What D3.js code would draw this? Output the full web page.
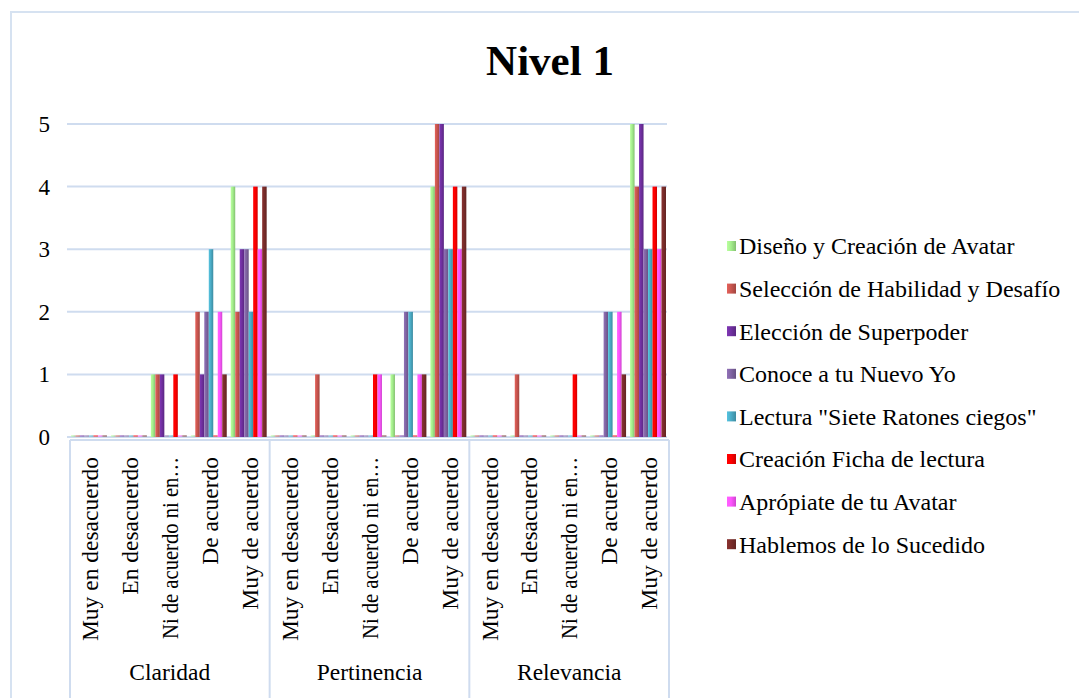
<!DOCTYPE html>
<html>
<head>
<meta charset="utf-8">
<script src="https://cdn.jsdelivr.net/npm/d3@7"></script>
<style>
  body { margin: 0; background: #fff; }
  svg text { font-family: "Liberation Serif", "Times New Roman", serif; fill: #000; }
</style>
</head>
<body>
<div id="chart"></div>
<script>
// data
var groups = ["Claridad", "Pertinencia", "Relevancia"];
var levels = ["Muy en desacuerdo", "En desacuerdo", "Ni de acuerdo ni en…", "De acuerdo", "Muy de acuerdo"];
var seriesNames = ["Diseño y Creación de Avatar", "Selección de Habilidad y Desafío", "Elección de Superpoder",
    "Conoce a tu Nuevo Yo", "Lectura \"Siete Ratones ciegos\"", "Creación Ficha de lectura",
    "Aprópiate de tu Avatar", "Hablemos de lo Sucedido"];
var colors = ["#a4ee8c", "#c9564f", "#7030a0", "#8064a2", "#4bacc6", "#ff0000", "#ff55ff", "#7a2c2a"];
var yTicks = [0, 1, 2, 3, 4, 5];

// one row per series, 15 values (Claridad x5, Pertinencia x5, Relevancia x5)
var diseno      = [0,0,1,0,4, 0,0,0,1,4, 0,0,0,0,5];
var seleccion   = [0,0,1,2,2, 0,1,0,0,5, 0,1,0,0,4];
var superpoder  = [0,0,1,1,3, 0,0,0,0,5, 0,0,0,0,5];
var conoce      = [0,0,0,2,3, 0,0,0,2,3, 0,0,0,2,3];
var lectura     = [0,0,0,3,2, 0,0,0,2,3, 0,0,0,2,3];
var ficha       = [0,0,1,0,4, 0,0,1,0,4, 0,0,1,0,4];
var apropiate   = [0,0,0,2,3, 0,0,1,1,3, 0,0,0,2,3];
var hablemos    = [0,0,0,1,4, 0,0,0,1,4, 0,0,0,1,4];
var seriesValues = [diseno, seleccion, superpoder, conoce, lectura, ficha, apropiate, hablemos];

var width = 1079, height = 698;
var margin = {left: 70, right: 410, top: 124, bottom: 261};
var plotW = width - margin.left - margin.right;
var plotH = height - margin.top - margin.bottom;

var svg = d3.select("#chart").append("svg")
    .attr("width", width)
    .attr("height", height);

// outer frame
svg.append("rect")
    .attr("x", 11).attr("y", 12)
    .attr("width", 1200).attr("height", 800)
    .attr("fill", "none")
    .attr("stroke", "#d6e2f1")
    .attr("stroke-width", 2);

// title
svg.append("text")
    .attr("x", 550).attr("y", 75)
    .attr("text-anchor", "middle")
    .style("font-size", "43px")
    .style("font-weight", "bold")
    .text("Nivel 1");

var cats = [];
groups.forEach(function(g){
    levels.forEach(function(l){ cats.push(g + "|" + l); });
});

var x0 = d3.scaleBand().domain(cats).range([0, plotW]).paddingInner(0).paddingOuter(0);
var x1 = d3.scaleBand().domain(d3.range(seriesNames.length)).range([1, x0.bandwidth() - 3]).padding(0);
var y = d3.scaleLinear().domain([0, 5]).range([plotH, 0]);

var g = svg.append("g").attr("transform", "translate(" + margin.left + "," + margin.top + ")");

// gradients to mimic the bevelled bars
var defs = svg.append("defs");
colors.forEach(function(c, i){
    var grad = defs.append("linearGradient").attr("id", "grad" + i)
        .attr("x1", "0%").attr("x2", "100%").attr("y1", "0%").attr("y2", "0%");
    grad.append("stop").attr("offset", "0%").attr("stop-color", d3.color(c).brighter(0.35));
    grad.append("stop").attr("offset", "45%").attr("stop-color", c);
    grad.append("stop").attr("offset", "100%").attr("stop-color", d3.color(c).darker(0.6));
});

// gridlines
g.selectAll(".grid")
    .data(yTicks)
    .enter().append("line")
    .attr("x1", -3).attr("x2", plotW - 2)
    .attr("y1", function(d){ return y(d); })
    .attr("y2", function(d){ return y(d); })
    .attr("stroke", "#cfdcef")
    .attr("stroke-width", 2);

// y tick labels
g.selectAll(".ylab")
    .data(yTicks)
    .enter().append("text")
    .attr("x", -20)
    .attr("y", function(d){ return y(d); })
    .attr("dy", "0.35em")
    .attr("text-anchor", "end")
    .style("font-size", "23px")
    .text(function(d){ return d; });

// bars
var catG = g.selectAll(".cat")
    .data(cats)
    .enter().append("g")
    .attr("transform", function(d){ return "translate(" + x0(d) + ",0)"; });

catG.selectAll("rect")
    .data(function(d, ci){
        return seriesValues.map(function(vals, si){ return {s: si, v: vals[ci]}; });
    })
    .enter().append("rect")
    .attr("x", function(d){ return x1(d.s); })
    .attr("width", x1.bandwidth())
    .attr("y", function(d){ return d.v > 0 ? y(d.v) : y(0) - 2; })
    .attr("height", function(d){ return d.v > 0 ? y(0) - y(d.v) : 2; })
    .attr("fill", function(d){ return "url(#grad" + d.s + ")"; })
    .attr("opacity", function(d){ return d.v > 0 ? 1 : 0.45; });

// category axis
var axisY = plotH + 3;
g.append("line")
    .attr("x1", 0).attr("x2", plotW)
    .attr("y1", axisY).attr("y2", axisY)
    .attr("stroke", "#cfdcef").attr("stroke-width", 2);

var groupW = plotW / groups.length;
g.selectAll(".sep")
    .data(d3.range(groups.length + 1))
    .enter().append("line")
    .attr("x1", function(d){ return d * groupW; })
    .attr("x2", function(d){ return d * groupW; })
    .attr("y1", axisY).attr("y2", 600)
    .attr("stroke", "#cfdcef").attr("stroke-width", 2);

var xlab = g.selectAll(".xlab")
    .data(cats)
    .enter().append("text")
    .attr("transform", function(d){
        return "translate(" + (x0(d) + x0.bandwidth() / 2) + "," + (axisY + 17) + ") rotate(-90)";
    })
    .attr("dy", "0.35em")
    .attr("text-anchor", "end")
    .style("font-size", "23.5px")
    .text(function(d){ return d.split("|")[1]; });

// the truncated label is squeezed to the same room as the others, as in the original
xlab.filter(function(d){ return d.indexOf("…") >= 0; })
    .attr("textLength", 182)
    .attr("lengthAdjust", "spacingAndGlyphs");

g.selectAll(".glab")
    .data(groups)
    .enter().append("text")
    .attr("x", function(d, i){ return i * groupW + groupW / 2; })
    .attr("y", 556)
    .attr("text-anchor", "middle")
    .style("font-size", "23.5px")
    .text(function(d){ return d; });

// legend
var legend = svg.append("g").attr("transform", "translate(727,246)");
var leg = legend.selectAll(".leg")
    .data(seriesNames)
    .enter().append("g")
    .attr("transform", function(d, i){ return "translate(0," + (i * 42.6) + ")"; });

leg.append("rect")
    .attr("x", 0).attr("y", -5)
    .attr("width", 9).attr("height", 10)
    .attr("fill", function(d, i){ return "url(#grad" + i + ")"; });

leg.append("text")
    .attr("x", 12)
    .attr("dy", "0.35em")
    .style("font-size", "24px")
    .text(function(d){ return d; });
</script>
</body>
</html>
